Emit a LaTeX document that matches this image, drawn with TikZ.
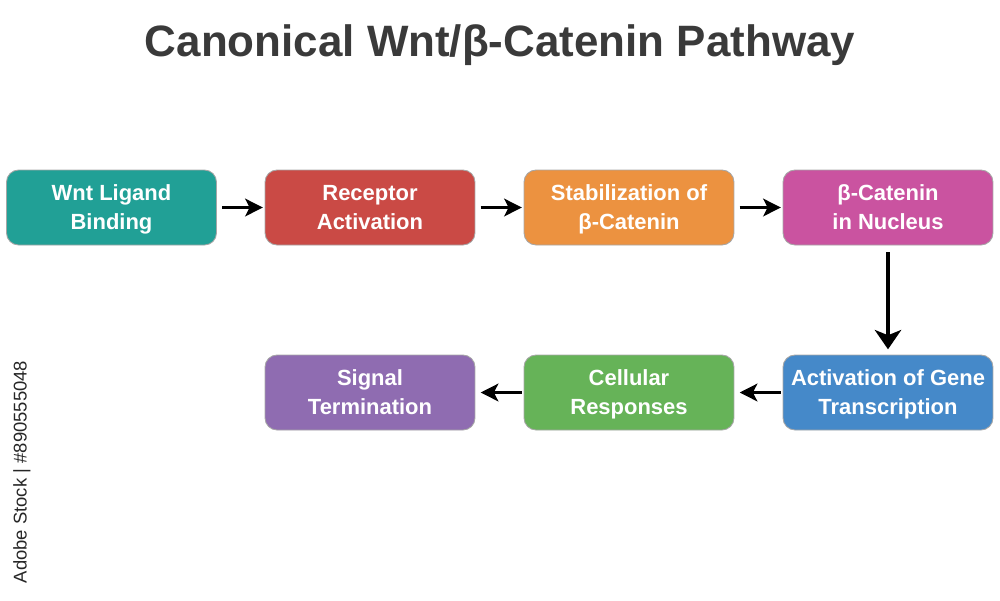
\documentclass[tikz,border=0pt]{standalone}
\usepackage{fontspec}
\setmainfont{Liberation Sans}
\usetikzlibrary{arrows.meta}
\definecolor{cteal}{HTML}{21A096}
\definecolor{cred}{HTML}{CA4A45}
\definecolor{corange}{HTML}{EC9240}
\definecolor{cmagenta}{HTML}{CA53A0}
\definecolor{cblue}{HTML}{4589C9}
\definecolor{cgreen}{HTML}{66B358}
\definecolor{cpurple}{HTML}{8F6CB1}
\definecolor{ctitle}{HTML}{3A3A3A}
\tikzset{
  stepbox/.style={draw=black!35, line width=0.5pt, rounded corners=0.24cm,
    minimum width=4.2cm, minimum height=1.5cm, align=center, text=white,
    font=\bfseries\fontsize{12.5}{16.5}\selectfont, inner sep=2pt, text depth=0pt},
  flow/.style={line width=2pt, -{Stealth[length=10pt, width=10pt, inset=2.5pt]}, black},
  vflow/.style={line width=2.3pt, -{Stealth[length=11pt, width=15pt, inset=3pt]}, black},
}
\begin{document}
\begin{tikzpicture}[x=0.02cm, y=-0.02cm]
\useasboundingbox (0,0) rectangle (1000,600);
\node[font=\bfseries\fontsize{25}{30}\selectfont, text=ctitle] (title) at (500,45) {Canonical Wnt/β-Catenin Pathway};
\node[stepbox, fill=cteal] (b1) at (111.5,207.5) {Wnt Ligand\\Binding};
\node[stepbox, fill=cred] (b2) at (370,207.5) {Receptor\\Activation};
\node[stepbox, fill=corange] (b3) at (629,207.5) {Stabilization of\\β-Catenin};
\node[stepbox, fill=cmagenta] (b4) at (888,207.5) {β-Catenin\\in Nucleus};
\node[stepbox, fill=cblue] (b5) at (888,392.5) {Activation of Gene\\Transcription};
\node[stepbox, fill=cgreen] (b6) at (629,392.5) {Cellular\\Responses};
\node[stepbox, fill=cpurple] (b7) at (370,392.5) {Signal\\Termination};
\draw[flow] ([xshift=3pt]b1.east) -- ([xshift=-1pt]b2.west);
\draw[flow] ([xshift=3pt]b2.east) -- ([xshift=-1pt]b3.west);
\draw[flow] ([xshift=3pt]b3.east) -- ([xshift=-1pt]b4.west);
\draw[flow,vflow] ([yshift=-4pt]b4.south) -- ([yshift=3pt]b5.north);
\draw[flow] ([xshift=-1pt]b5.west) -- ([xshift=3pt]b6.east);
\draw[flow] ([xshift=-1pt]b6.west) -- ([xshift=3pt]b7.east);
\node[rotate=90, font=\fontsize{10.5}{12}\selectfont, text=black!85] (wm) at (22,472) {Adobe Stock | \#890555048};
\end{tikzpicture}
\end{document}
